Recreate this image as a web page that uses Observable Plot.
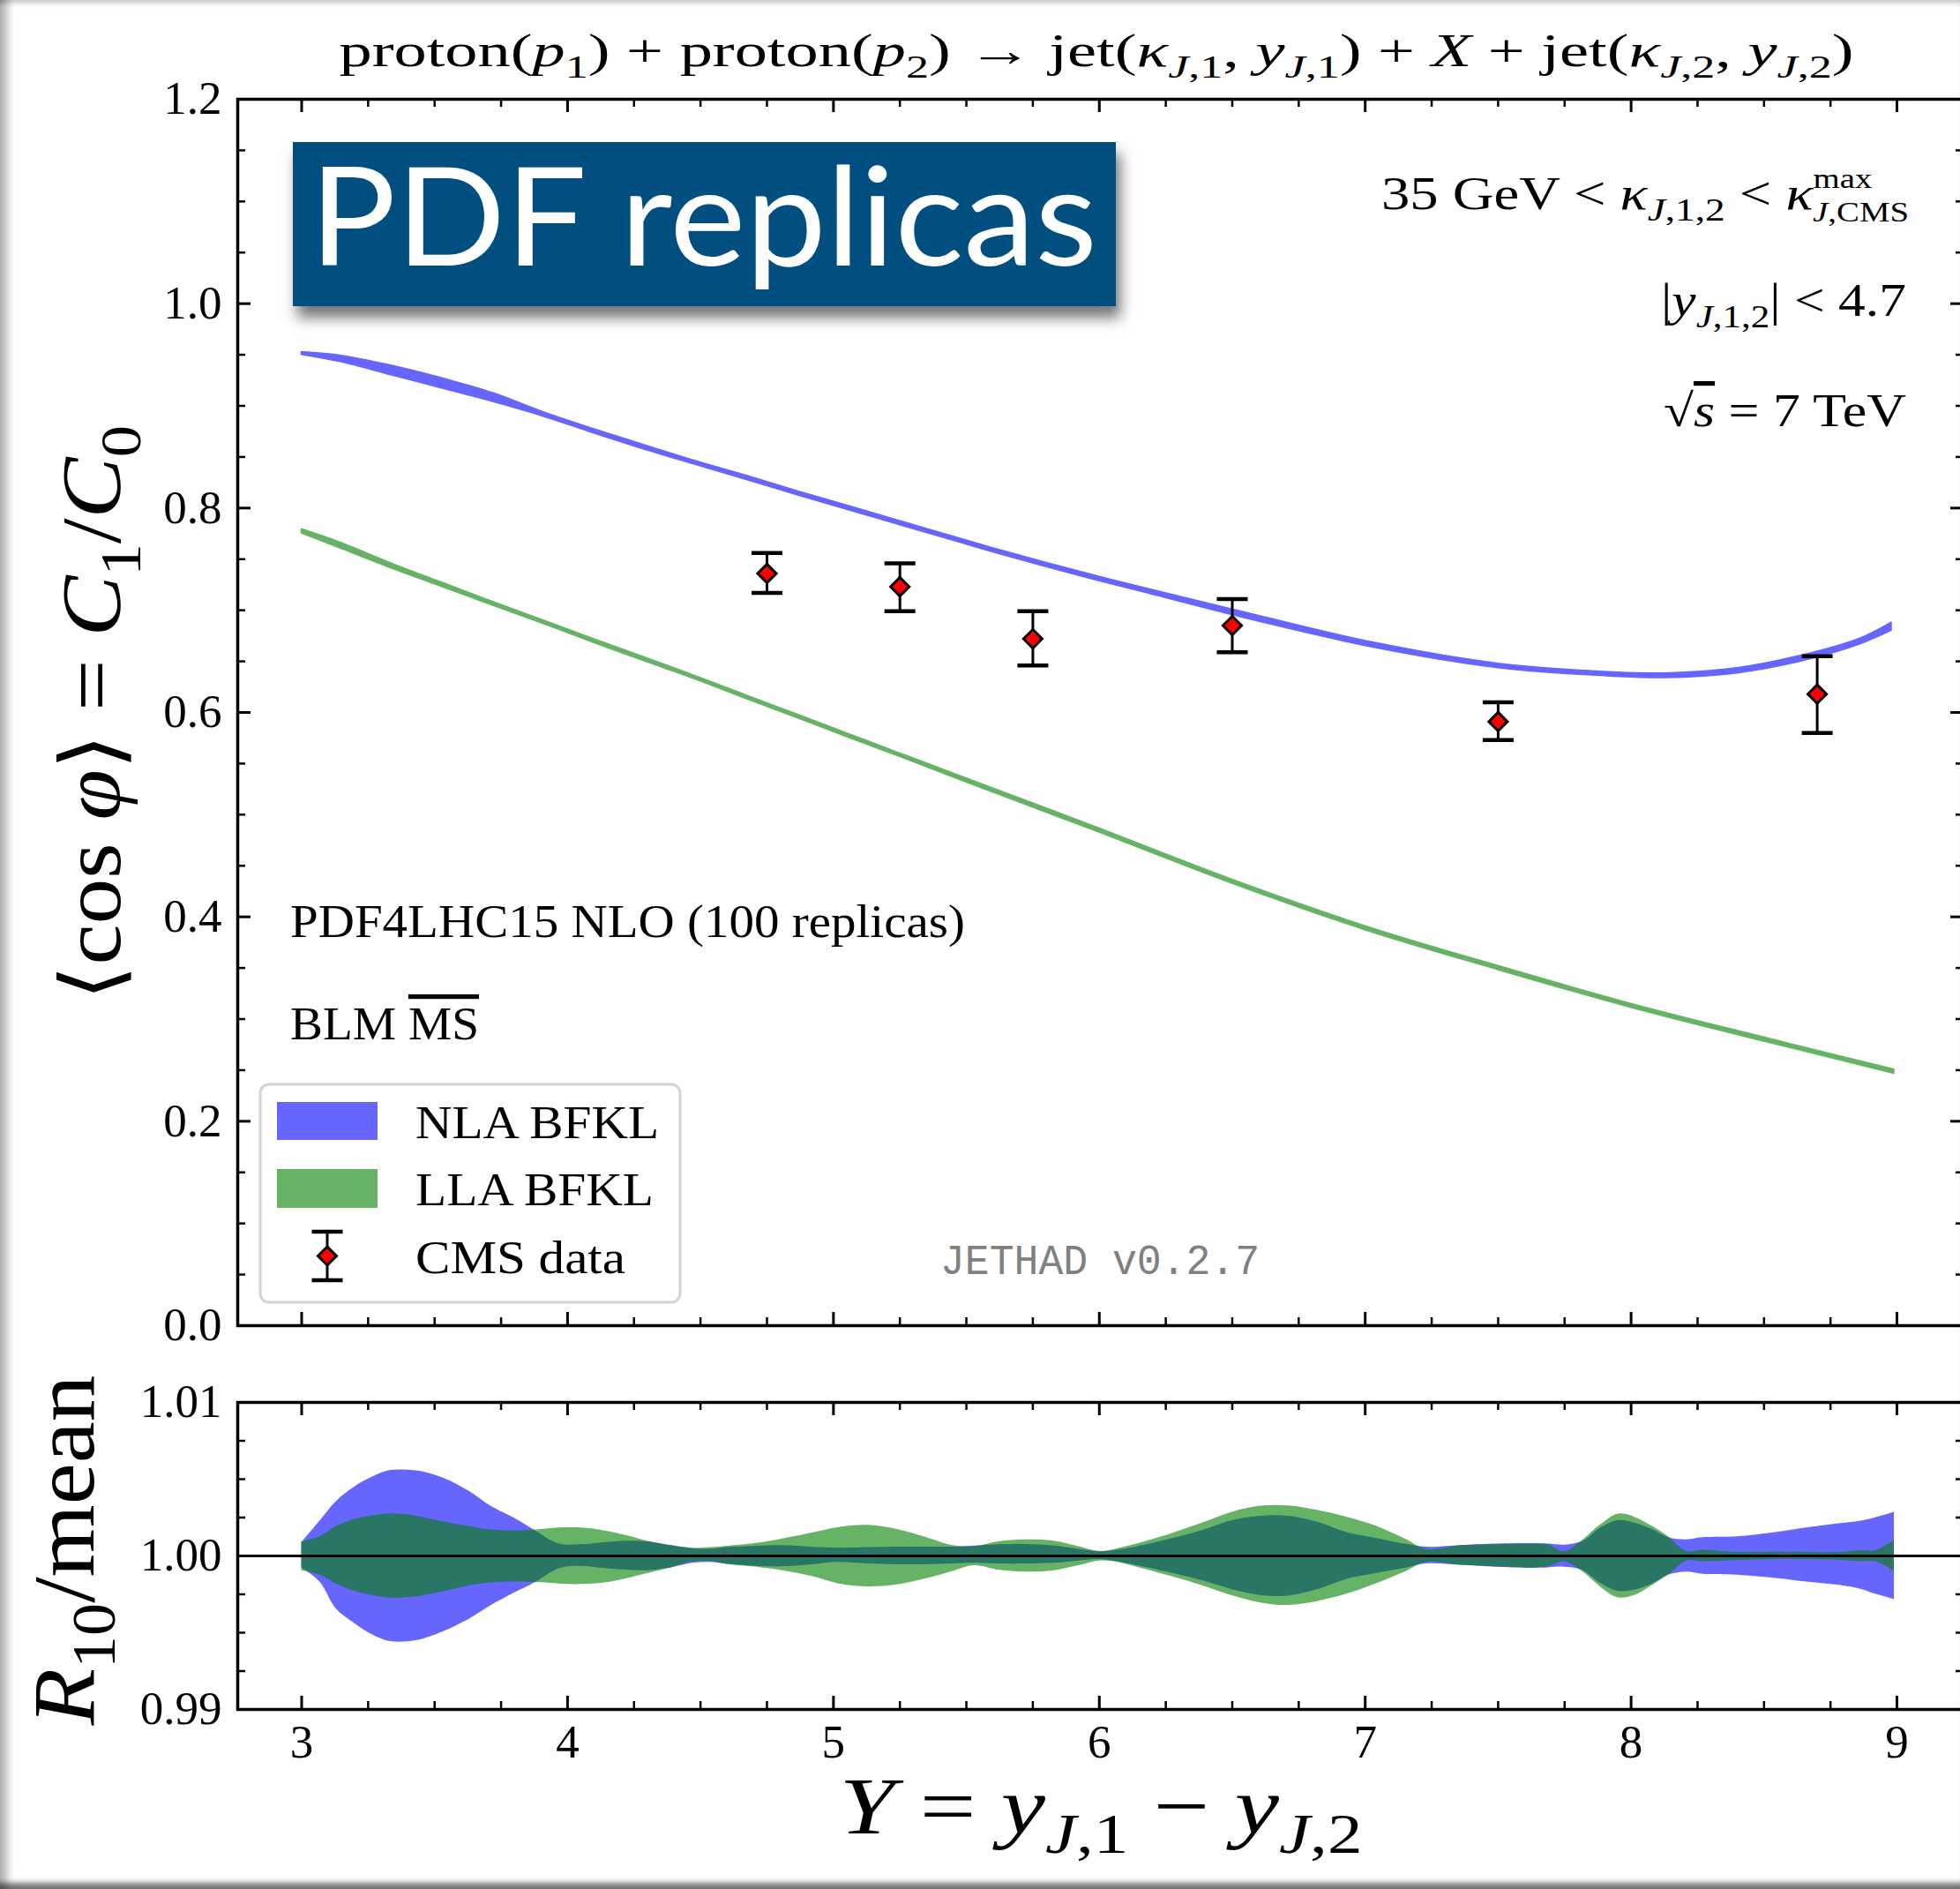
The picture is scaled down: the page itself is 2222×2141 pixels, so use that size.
<!DOCTYPE html>
<html><head><meta charset="utf-8">
<script src="https://cdn.jsdelivr.net/npm/d3@7"></script>
<script src="https://cdn.jsdelivr.net/npm/@observablehq/plot@0.6"></script>
<style>
html,body{margin:0;padding:0;background:#fff;}
#page{position:relative;width:2222px;height:2141px;overflow:hidden;background:#fff;}
#top,#bottom,#overlay,#paper{position:absolute;left:0;}
#top{top:0px;width:2226px;} #bottom{top:1540px;width:2226px;}
#top svg,#bottom svg{max-width:none !important;}
#overlay{top:0px;pointer-events:none;}
#paper{top:0px;width:2222px;height:2141px;pointer-events:none;
  box-shadow: inset 18px 0 10px -10px rgba(0,0,0,.3), inset 0 -12px 6px -5px rgba(0,0,0,.55), inset 0 9px 6px -6px rgba(0,0,0,.25);}
</style></head>
<body>
<div id="page"><div id="top"></div><div id="bottom"></div>
<svg id="overlay" width="2222" height="2141" xmlns="http://www.w3.org/2000/svg"></svg>
<div id="paper"></div></div>
<script>
// ---------------- data ----------------
// NLA BFKL band (upper panel)
const nlaX  = [3.0, 3.15, 3.34, 3.53, 3.72, 3.91, 4.1, 4.3, 4.49, 4.68, 4.87, 5.06, 5.25, 5.44, 5.63, 5.95, 6.14, 6.59, 7.04, 7.5, 7.95, 8.13, 8.4, 8.63, 8.86, 8.98];
const nlaHi = [0.9527, 0.9491, 0.9393, 0.9269, 0.9125, 0.8938, 0.8772, 0.8607, 0.8454, 0.8311, 0.8161, 0.8018, 0.7873, 0.7730, 0.7586, 0.7362, 0.7237, 0.6952, 0.6679, 0.6478, 0.6391, 0.6383, 0.6434, 0.6550, 0.6722, 0.6880];
const nlaLo = [0.9499, 0.9427, 0.9298, 0.9168, 0.9039, 0.8895, 0.8730, 0.8564, 0.8417, 0.8271, 0.8121, 0.7977, 0.7833, 0.7689, 0.7545, 0.7318, 0.7193, 0.6895, 0.6630, 0.6434, 0.6348, 0.6337, 0.6383, 0.6492, 0.6665, 0.6800];
// LLA BFKL band (upper panel)
const llaX  = [3.0, 3.15, 3.34, 3.53, 3.72, 3.91, 4.1, 4.3, 4.49, 4.68, 4.87, 5.06, 5.25, 5.5, 6.0, 6.5, 7.0, 7.5, 8.0, 8.5, 8.99];
const llaHi = [0.7793, 0.7658, 0.7456, 0.7269, 0.7082, 0.6900, 0.6717, 0.6530, 0.6348, 0.6161, 0.5974, 0.5787, 0.5600, 0.5355, 0.4865, 0.4365, 0.3910, 0.3520, 0.3150, 0.2820, 0.2505];
const llaLo = [0.7752, 0.7600, 0.7407, 0.7226, 0.7045, 0.6866, 0.6679, 0.6492, 0.6314, 0.6124, 0.5940, 0.5750, 0.5566, 0.5315, 0.4825, 0.4325, 0.3870, 0.3480, 0.3110, 0.2780, 0.2465];
// CMS data
const cmsX  = [4.75, 5.25, 5.75, 6.5, 7.5, 8.7];
const cmsY  = [0.736, 0.723, 0.672, 0.685, 0.591, 0.618];
const cmsLo = [0.717, 0.699, 0.646, 0.659, 0.573, 0.580];
const cmsHi = [0.756, 0.746, 0.699, 0.711, 0.610, 0.655];
// R10/mean ratio bands (lower panel)
const ratioX = [3.00, 3.07, 3.13, 3.20, 3.27, 3.33, 3.40, 3.46, 3.54, 3.63, 3.71, 3.80, 3.88, 3.97, 4.05, 4.14, 4.22, 4.30, 4.39, 4.47, 4.54, 4.60, 4.71, 4.81, 4.92, 5.02, 5.13, 5.24, 5.34, 5.45, 5.53, 5.62, 5.72, 5.83, 5.93, 6.00, 6.07, 6.17, 6.28, 6.39, 6.50, 6.61, 6.71, 6.82, 6.93, 7.04, 7.15, 7.23, 7.36, 7.49, 7.62, 7.69, 7.75, 7.82, 7.88, 7.95, 8.01, 8.08, 8.14, 8.21, 8.27, 8.40, 8.53, 8.66, 8.79, 8.86, 8.92, 8.99];
const nlaRatioHi = [1.00086, 1.00230, 1.00354, 1.00450, 1.00517, 1.00556, 1.00559, 1.00546, 1.00502, 1.00421,
  1.00326, 1.00245, 1.00163, 1.00077, 1.00073, 1.00086, 1.00096, 1.00092, 1.00067, 1.00048,
  1.00044, 1.00054, 1.00063, 1.00067, 1.00057, 1.00050, 1.00054, 1.00057, 1.00057, 1.00057,
  1.00065, 1.00073, 1.00075, 1.00065, 1.00042, 1.00029, 1.00038, 1.00071, 1.00115, 1.00167,
  1.00230, 1.00259, 1.00259, 1.00220, 1.00153, 1.00115, 1.00077, 1.00057, 1.00067, 1.00077,
  1.00080, 1.00077, 1.00071, 1.00096, 1.00176, 1.00230, 1.00216, 1.00172, 1.00119, 1.00105,
  1.00119, 1.00125, 1.00149, 1.00182, 1.00211, 1.00226, 1.00249, 1.00284];
const nlaRatioLo = [0.99923, 0.99828, 0.99655, 0.99559, 0.99483, 0.99444, 0.99441, 0.99460, 0.99511, 0.99588,
  0.99674, 0.99758, 0.99828, 0.99918, 0.99933, 0.99918, 0.99908, 0.99904, 0.99923, 0.99952,
  0.99958, 0.99946, 0.99933, 0.99929, 0.99943, 0.99958, 0.99948, 0.99943, 0.99943, 0.99948,
  0.99952, 0.99948, 0.99948, 0.99952, 0.99969, 0.99977, 0.99962, 0.99927, 0.99885, 0.99837,
  0.99780, 0.99741, 0.99739, 0.99780, 0.99847, 0.99885, 0.99920, 0.99948, 0.99939, 0.99927,
  0.99920, 0.99923, 0.99927, 0.99904, 0.99828, 0.99770, 0.99776, 0.99818, 0.99875, 0.99895,
  0.99881, 0.99875, 0.99856, 0.99831, 0.99808, 0.99785, 0.99751, 0.99716];
const llaRatioHi = [1.00092, 1.00125, 1.00192, 1.00239, 1.00262, 1.00274, 1.00268, 1.00249, 1.00220, 1.00192,
  1.00169, 1.00163, 1.00169, 1.00182, 1.00182, 1.00163, 1.00134, 1.00096, 1.00067, 1.00050,
  1.00054, 1.00063, 1.00082, 1.00111, 1.00149, 1.00186, 1.00199, 1.00172, 1.00125, 1.00067,
  1.00061, 1.00092, 1.00105, 1.00096, 1.00057, 1.00029, 1.00048, 1.00092, 1.00150, 1.00215,
  1.00285, 1.00324, 1.00326, 1.00297, 1.00253, 1.00195, 1.00110, 1.00042, 1.00067, 1.00073,
  1.00077, 1.00071, 1.00029, 1.00105, 1.00195, 1.00272, 1.00255, 1.00192, 1.00125, 1.00029,
  1.00038, 1.00023, 1.00025, 1.00023, 1.00023, 1.00034, 1.00034, 1.00100];
const llaRatioLo = [0.99904, 0.99875, 0.99818, 0.99770, 0.99741, 0.99726, 0.99728, 0.99741, 0.99770, 0.99805,
  0.99824, 0.99831, 0.99828, 0.99818, 0.99814, 0.99824, 0.99851, 0.99885, 0.99923, 0.99962,
  0.99962, 0.99946, 0.99927, 0.99904, 0.99866, 0.99818, 0.99799, 0.99812, 0.99847, 0.99900,
  0.99937, 0.99908, 0.99895, 0.99904, 0.99939, 0.99967, 0.99958, 0.99914, 0.99862, 0.99805,
  0.99741, 0.99693, 0.99678, 0.99703, 0.99751, 0.99818, 0.99895, 0.99958, 0.99939, 0.99929,
  0.99923, 0.99931, 0.99962, 0.99895, 0.99805, 0.99728, 0.99741, 0.99808, 0.99875, 0.99967,
  0.99962, 0.99971, 0.99977, 0.99977, 0.99971, 0.99962, 0.99962, 0.99900];
// tick labels
const xTicks = [3, 4, 5, 6, 7, 8, 9];
const yTicksTop = [0, 0.2, 0.4, 0.6, 0.8, 1.0, 1.2];
const yTicksRatio = [0.99, 1.00, 1.01];

// ---------------- layout ----------------
const W = 2226, ML = 269, MR = 0;          // right spine falls just past the 2222px page edge
const FW = W - ML - MR;
const TOP_H = 1540, TOP_MT = 112, TOP_MB = 38, FH1 = TOP_H - TOP_MT - TOP_MB;
const BOT_H = 601, BOT_MT = 49, BOT_MB = 204, FH2 = BOT_H - BOT_MT - BOT_MB;
const MAJ = 15, MIN = 9;
const XDOM = [2.7595, 9.252];
const FONT = "'Liberation Serif', 'DejaVu Serif', serif";
const TFS = 53;

const nla = nlaX.map((x, i) => ({x, lo: nlaLo[i], hi: nlaHi[i]}));
const lla = llaX.map((x, i) => ({x, lo: llaLo[i], hi: llaHi[i]}));
const cms = cmsX.map((x, i) => ({x, y: cmsY[i], lo: cmsLo[i], hi: cmsHi[i]}));
const ratio = ratioX.map((x, i) => ({x, nHi: nlaRatioHi[i], nLo: nlaRatioLo[i], gHi: llaRatioHi[i], gLo: llaRatioLo[i]}));

const xMinor = d3.range(3, 9.001, 0.25).filter(v => Math.abs(v - Math.round(v)) > 1e-6);
const yMinorTop = d3.range(0, 1.2001, 0.05).filter(v => Math.round(v * 20) % 4 !== 0);
const yMinorRatio = d3.range(0, 9).map(i => 0.99 + i * 0.0025).filter((v, i) => i % 4 !== 0);

function tickMarks(yMaj, yMin, FH) {
  const s = {stroke: "black", strokeWidth: 3};
  return [
    Plot.ruleX(xTicks, {...s, insetTop: FH - MAJ}),
    Plot.ruleX(xTicks, {...s, insetBottom: FH - MAJ}),
    Plot.ruleX(xMinor, {...s, strokeWidth: 2.5, insetTop: FH - MIN}),
    Plot.ruleX(xMinor, {...s, strokeWidth: 2.5, insetBottom: FH - MIN}),
    Plot.ruleY(yMaj, {...s, insetRight: FW - MAJ}),
    Plot.ruleY(yMaj, {...s, insetLeft: FW - MAJ}),
    Plot.ruleY(yMin, {...s, strokeWidth: 2.5, insetRight: FW - MIN}),
    Plot.ruleY(yMin, {...s, strokeWidth: 2.5, insetLeft: FW - MIN})
  ];
}
const capSymbol = {draw(ctx, size) { ctx.moveTo(-17.5, 0); ctx.lineTo(17.5, 0); }};
const style = {background: "transparent", fontFamily: FONT, fontSize: TFS + "px", color: "black", overflow: "visible", maxWidth: "none"};

const topPlot = Plot.plot({
  width: W, height: TOP_H, marginLeft: ML, marginRight: MR, marginTop: TOP_MT, marginBottom: TOP_MB,
  style,
  x: {domain: XDOM, axis: null},
  y: {domain: [0, 1.2]},
  marks: [
    Plot.areaY(nla, {x: "x", y1: "lo", y2: "hi", fill: "#6666ff", stroke: "#6666ff", strokeWidth: 1.5, curve: "catmull-rom"}),
    Plot.areaY(lla, {x: "x", y1: "lo", y2: "hi", fill: "#66b366", stroke: "#66b366", strokeWidth: 1.5, curve: "catmull-rom"}),
    Plot.ruleX(cms, {x: "x", y1: "lo", y2: "hi", stroke: "black", strokeWidth: 3}),
    Plot.dot(cms, {x: "x", y: "lo", symbol: capSymbol, fill: "none", stroke: "black", strokeWidth: 4.5}),
    Plot.dot(cms, {x: "x", y: "hi", symbol: capSymbol, fill: "none", stroke: "black", strokeWidth: 4.5}),
    Plot.dot(cms, {x: "x", y: "y", symbol: "diamond2", r: 9.5, fill: "red", stroke: "black", strokeWidth: 3}),
    ...tickMarks(yTicksTop, yMinorTop, FH1),
    Plot.frame({stroke: "black", strokeWidth: 3.5}),
    Plot.axisY({ticks: yTicksTop, tickSize: 0, tickPadding: 18, tickFormat: d3.format(".1f"), fontSize: TFS, label: null})
  ]
});
document.getElementById("top").append(topPlot);

const botPlot = Plot.plot({
  width: W, height: BOT_H, marginLeft: ML, marginRight: MR, marginTop: BOT_MT, marginBottom: BOT_MB,
  style,
  x: {domain: XDOM},
  y: {domain: [0.99, 1.01]},
  marks: [
    Plot.areaY(ratio, {x: "x", y1: "nLo", y2: "nHi", fill: "#0000ff", fillOpacity: 0.6, curve: "catmull-rom"}),
    Plot.areaY(ratio, {x: "x", y1: "gLo", y2: "gHi", fill: "#008000", fillOpacity: 0.6, curve: "catmull-rom"}),
    Plot.ruleY([1], {stroke: "black", strokeWidth: 3}),
    ...tickMarks(yTicksRatio, yMinorRatio, FH2),
    Plot.frame({stroke: "black", strokeWidth: 3.5}),
    Plot.axisY({ticks: yTicksRatio, tickSize: 0, tickPadding: 18, tickFormat: d3.format(".2f"), fontSize: TFS, label: null}),
    Plot.axisX({ticks: xTicks, tickSize: 0, tickPadding: 17, tickFormat: d3.format("d"), fontSize: TFS, label: null})
  ]
});
document.getElementById("bottom").append(botPlot);

// ---------------- text overlay ----------------
function esc(s) { return s.replace(/&/g, "&amp;").replace(/</g, "&lt;").replace(/>/g, "&gt;"); }
function rich(segs, fs) {
  let cur = 0, out = "";
  for (const [t, f = ""] of segs) {
    const fl = f.split(" ");
    const sub = fl.includes("sub"), sup = fl.includes("sup"), small = fl.includes("sm");
    const off = sub ? (small ? 0.27 : 0.24) * fs : sup ? (small ? -0.46 : -0.42) * fs : 0;
    const dy = off - cur; cur = off;
    let a = ` dy="${dy.toFixed(1)}"`;
    if (sub || sup) a += ` font-size="${((small ? 0.6 : 0.7) * fs).toFixed(1)}"`;
    if (fl.includes("i")) a += ` font-style="italic"`;
    if (fl.includes("o")) a += ` style="text-decoration:overline"`;
    const dx = fl.find(s => s.startsWith("dx"));
    if (dx) a += ` dx="${dx.slice(2)}"`;
    out += `<tspan${a}>${esc(t)}</tspan>`;
  }
  return out;
}
function txt({x, y, fs, anchor = "start", len, rot, segs, fill = "black", family = FONT}) {
  const tl = len ? ` textLength="${len}" lengthAdjust="spacingAndGlyphs"` : "";
  const pos = rot ? ` transform="translate(${x},${y}) rotate(${rot})"` : ` x="${x}" y="${y}"`;
  return `<text${pos} font-family="${family}" font-size="${fs}" text-anchor="${anchor}" fill="${fill}"${tl}>${rich(segs, fs)}</text>`;
}

const titleSegs = [["proton("], ["p", "i"], ["1", "sub"], [") + proton("], ["p", "i"], ["2", "sub"], [") → jet("],
  ["κ", "i"], ["J", "sub i"], [",1", "sub"], [", "], ["y", "i"], ["J", "sub i"], [",1", "sub"], [") + "], ["X", "i"],
  [" + jet("], ["κ", "i"], ["J", "sub i"], [",2", "sub"], [", "], ["y", "i"], ["J", "sub i"], [",2", "sub"], [")"]];
const ylabSegs = [["⟨cos "], ["φ", "i"], ["⟩ = "], ["C", "i"], ["1", "sub"], ["/"], ["C", "i"], ["0", "sub"]];
const rlabSegs = [["R", "i"], ["10", "sub"], ["/mean"]];
const xlabSegs = [["Y", "i"], [" = "], ["y", "i"], ["J", "sub i"], [",1", "sub"], [" − "], ["y", "i"], ["J", "sub i"], [",2", "sub"]];
const kinSegs = [["35 GeV < "], ["κ", "i"], ["J", "sub i"], [",1,2", "sub"], [" < "], ["κ", "i"], ["max", "sup sm"], ["J", "sub sm i dx-54"], [",CMS", "sub sm"]];
const rapSegs = [["|"], ["y", "i"], ["J", "sub i"], [",1,2", "sub"], ["| < 4.7"]];
const sqrtSegs = [["√"], ["s", "i o"], [" = 7 TeV"]];

let svg = `<defs><filter id="sh" x="-5%" y="-10%" width="115%" height="150%">
  <feDropShadow dx="5" dy="13" stdDeviation="8" flood-color="#000" flood-opacity="0.55"/></filter></defs>`;
svg += txt({x: 1243, y: 75, fs: 52, anchor: "middle", len: 1717, segs: titleSegs});
svg += txt({x: 136, y: 808, fs: 95, anchor: "middle", len: 652, rot: -90, segs: ylabSegs});
svg += txt({x: 106, y: 1757, fs: 100, anchor: "middle", len: 397, rot: -90, segs: rlabSegs});
svg += txt({x: 1248, y: 2078, fs: 92, anchor: "middle", len: 593, segs: xlabSegs});
svg += txt({x: 2164, y: 237, fs: 52, anchor: "end", len: 598, segs: kinSegs});
svg += txt({x: 2161, y: 358, fs: 52, anchor: "end", len: 278, segs: rapSegs});
svg += txt({x: 2161, y: 483, fs: 52, anchor: "end", len: 275, segs: sqrtSegs});
svg += txt({x: 329, y: 1062, fs: 52, len: 765, segs: [["PDF4LHC15 NLO (100 replicas)"]]});
svg += txt({x: 329, y: 1178, fs: 52, len: 214, segs: [["BLM "], ["MS", "o"]]});
svg += txt({x: 1066, y: 1444, fs: 48, len: 362, fill: "#808080", family: "'Liberation Mono', 'DejaVu Sans Mono', monospace", segs: [["JETHAD v0.2.7"]]});
// "PDF replicas" badge
svg += `<rect x="332" y="161" width="933" height="186" fill="#034f80" filter="url(#sh)"/>`;
svg += `<text x="351" y="301" font-family="Lato, 'Noto Sans', sans-serif" font-size="156" fill="#fff" textLength="893" lengthAdjust="spacingAndGlyphs">PDF replicas</text>`;
// legend
svg += `<rect x="295" y="1229" width="476" height="247" rx="10" fill="#fff" fill-opacity="0.8" stroke="#d4d4d4" stroke-width="3"/>`;
svg += `<rect x="314" y="1249" width="114" height="43" fill="#6666ff"/>`;
svg += `<rect x="314" y="1325" width="114" height="44" fill="#66b366"/>`;
svg += `<line x1="371" y1="1396" x2="371" y2="1451" stroke="#000" stroke-width="3"/>`;
svg += `<line x1="353.5" y1="1396" x2="388.5" y2="1396" stroke="#000" stroke-width="4.5"/>`;
svg += `<line x1="353.5" y1="1451" x2="388.5" y2="1451" stroke="#000" stroke-width="4.5"/>`;
svg += `<path d="M371,1413 L381.5,1423.5 L371,1434 L360.5,1423.5 Z" fill="red" stroke="#000" stroke-width="3"/>`;
svg += txt({x: 471, y: 1290, fs: 52, len: 276, segs: [["NLA BFKL"]]});
svg += txt({x: 471, y: 1366, fs: 52, len: 270, segs: [["LLA BFKL"]]});
svg += txt({x: 471, y: 1443, fs: 52, len: 238, segs: [["CMS data"]]});
document.getElementById("overlay").innerHTML = svg;
</script>
</body></html>
